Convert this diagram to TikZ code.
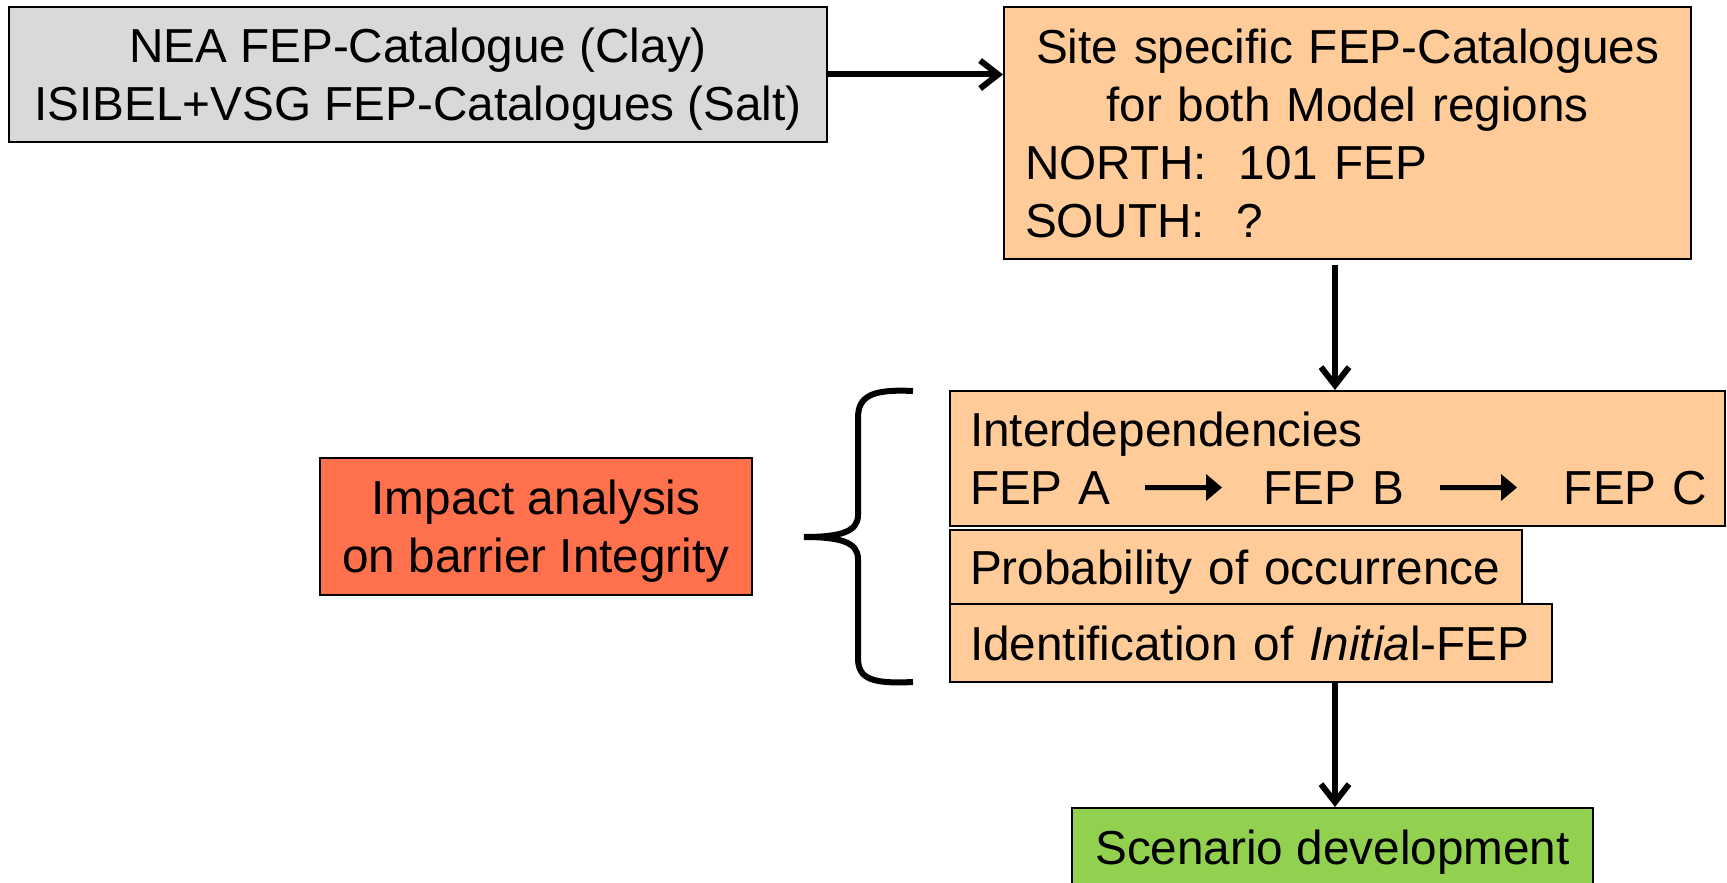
\documentclass[tikz,border=0pt]{standalone}
\usepackage{fontspec}
\setmainfont{Liberation Sans}
\usetikzlibrary{arrows.meta}

\definecolor{boxgray}{HTML}{D9D9D9}
\definecolor{peach}{HTML}{FFCC99}
\definecolor{impactred}{HTML}{FF704D}
\definecolor{scengreen}{HTML}{92D050}

\begin{document}
\begin{tikzpicture}[x = 1pt, y = -1pt,
    box/.style = {draw = black, line width = 2pt, inner sep = 0pt,
        font = \fontsize{47.7}{58}\selectfont},
    flat/.style = {text depth = 0pt},
    flow/.style = {line width = 6pt, -{Straight Barb[length = 18pt, width = 28pt]}}]
    \useasboundingbox (0,0) rectangle (1727,883);
    \clip (0,0) rectangle (1727,883);
    \coordinate (axis) at (1335,0);
    \node (cat) at (418,74.5) [box, flat, fill = boxgray, minimum width = 818pt, minimum height = 135pt, align = center]
        {NEA FEP-Catalogue (Clay)\\ISIBEL+VSG FEP-Catalogues (Salt)};
    \node (site) at (1347.5,133) [box, fill = peach, minimum width = 687pt, minimum height = 252pt,
        inner xsep = 21pt, text width = 645pt, align = left]
        {\makebox[645pt]{Site specific FEP-Catalogues}\\\makebox[645pt]{for both Model regions}\\NORTH:~~101 FEP\\SOUTH:~~?};
    \node (inter) at (1337.5,458.5) [box, fill = peach, minimum width = 775pt, minimum height = 135pt,
        inner xsep = 20pt, text width = 735pt, align = left]
        {Interdependencies\\\mbox{FEP A\hspace{153pt}FEP B\hspace{160pt}FEP C}};
    \node (prob) at (1236,567) [box, flat, fill = peach, minimum width = 572pt, minimum height = 74pt,
        inner xsep = 20pt, text width = 532pt, align = left] {Probability of occurrence};
    \node (ident) at (1251,643) [box, flat, fill = peach, minimum width = 602pt, minimum height = 78pt,
        inner xsep = 20pt, text width = 562pt, align = left] {Identification of \textit{Initia}l-FEP};
    \node (scen) at (1332.5,847) [box, flat, fill = scengreen, minimum width = 521pt, minimum height = 78pt] {Scenario development};
    \node (impact) at (536,526.5) [box, flat, fill = impactred, minimum width = 432pt, minimum height = 137pt, align = center]
        {Impact analysis\\on barrier Integrity};
    \foreach \ax in {1145, 1440}
    \fill (\ax,485) -- (\ax+61,485) -- (\ax+61,474) -- (\ax+77,487.5) -- (\ax+61,501) -- (\ax+61,490) -- (\ax,490) -- cycle;
    \draw[flow] (cat.east) -- (cat.east -| site.west);
    \draw[flow, shorten < = 5pt] (axis |- site.south) -- (axis |- inter.north);
    \draw[flow] (axis |- ident.south) -- (axis |- scen.north);
    \draw[line width = 6pt] (913,391) .. controls (872,389) and (858,396) .. (858,418) -- (858,515)
        .. controls (858,532) and (840,537) .. (804,537) .. controls (840,537) and (858,542) .. (858,559)
        -- (858,658) .. controls (858,679) and (872,684) .. (913,682);
\end{tikzpicture}
\end{document}
